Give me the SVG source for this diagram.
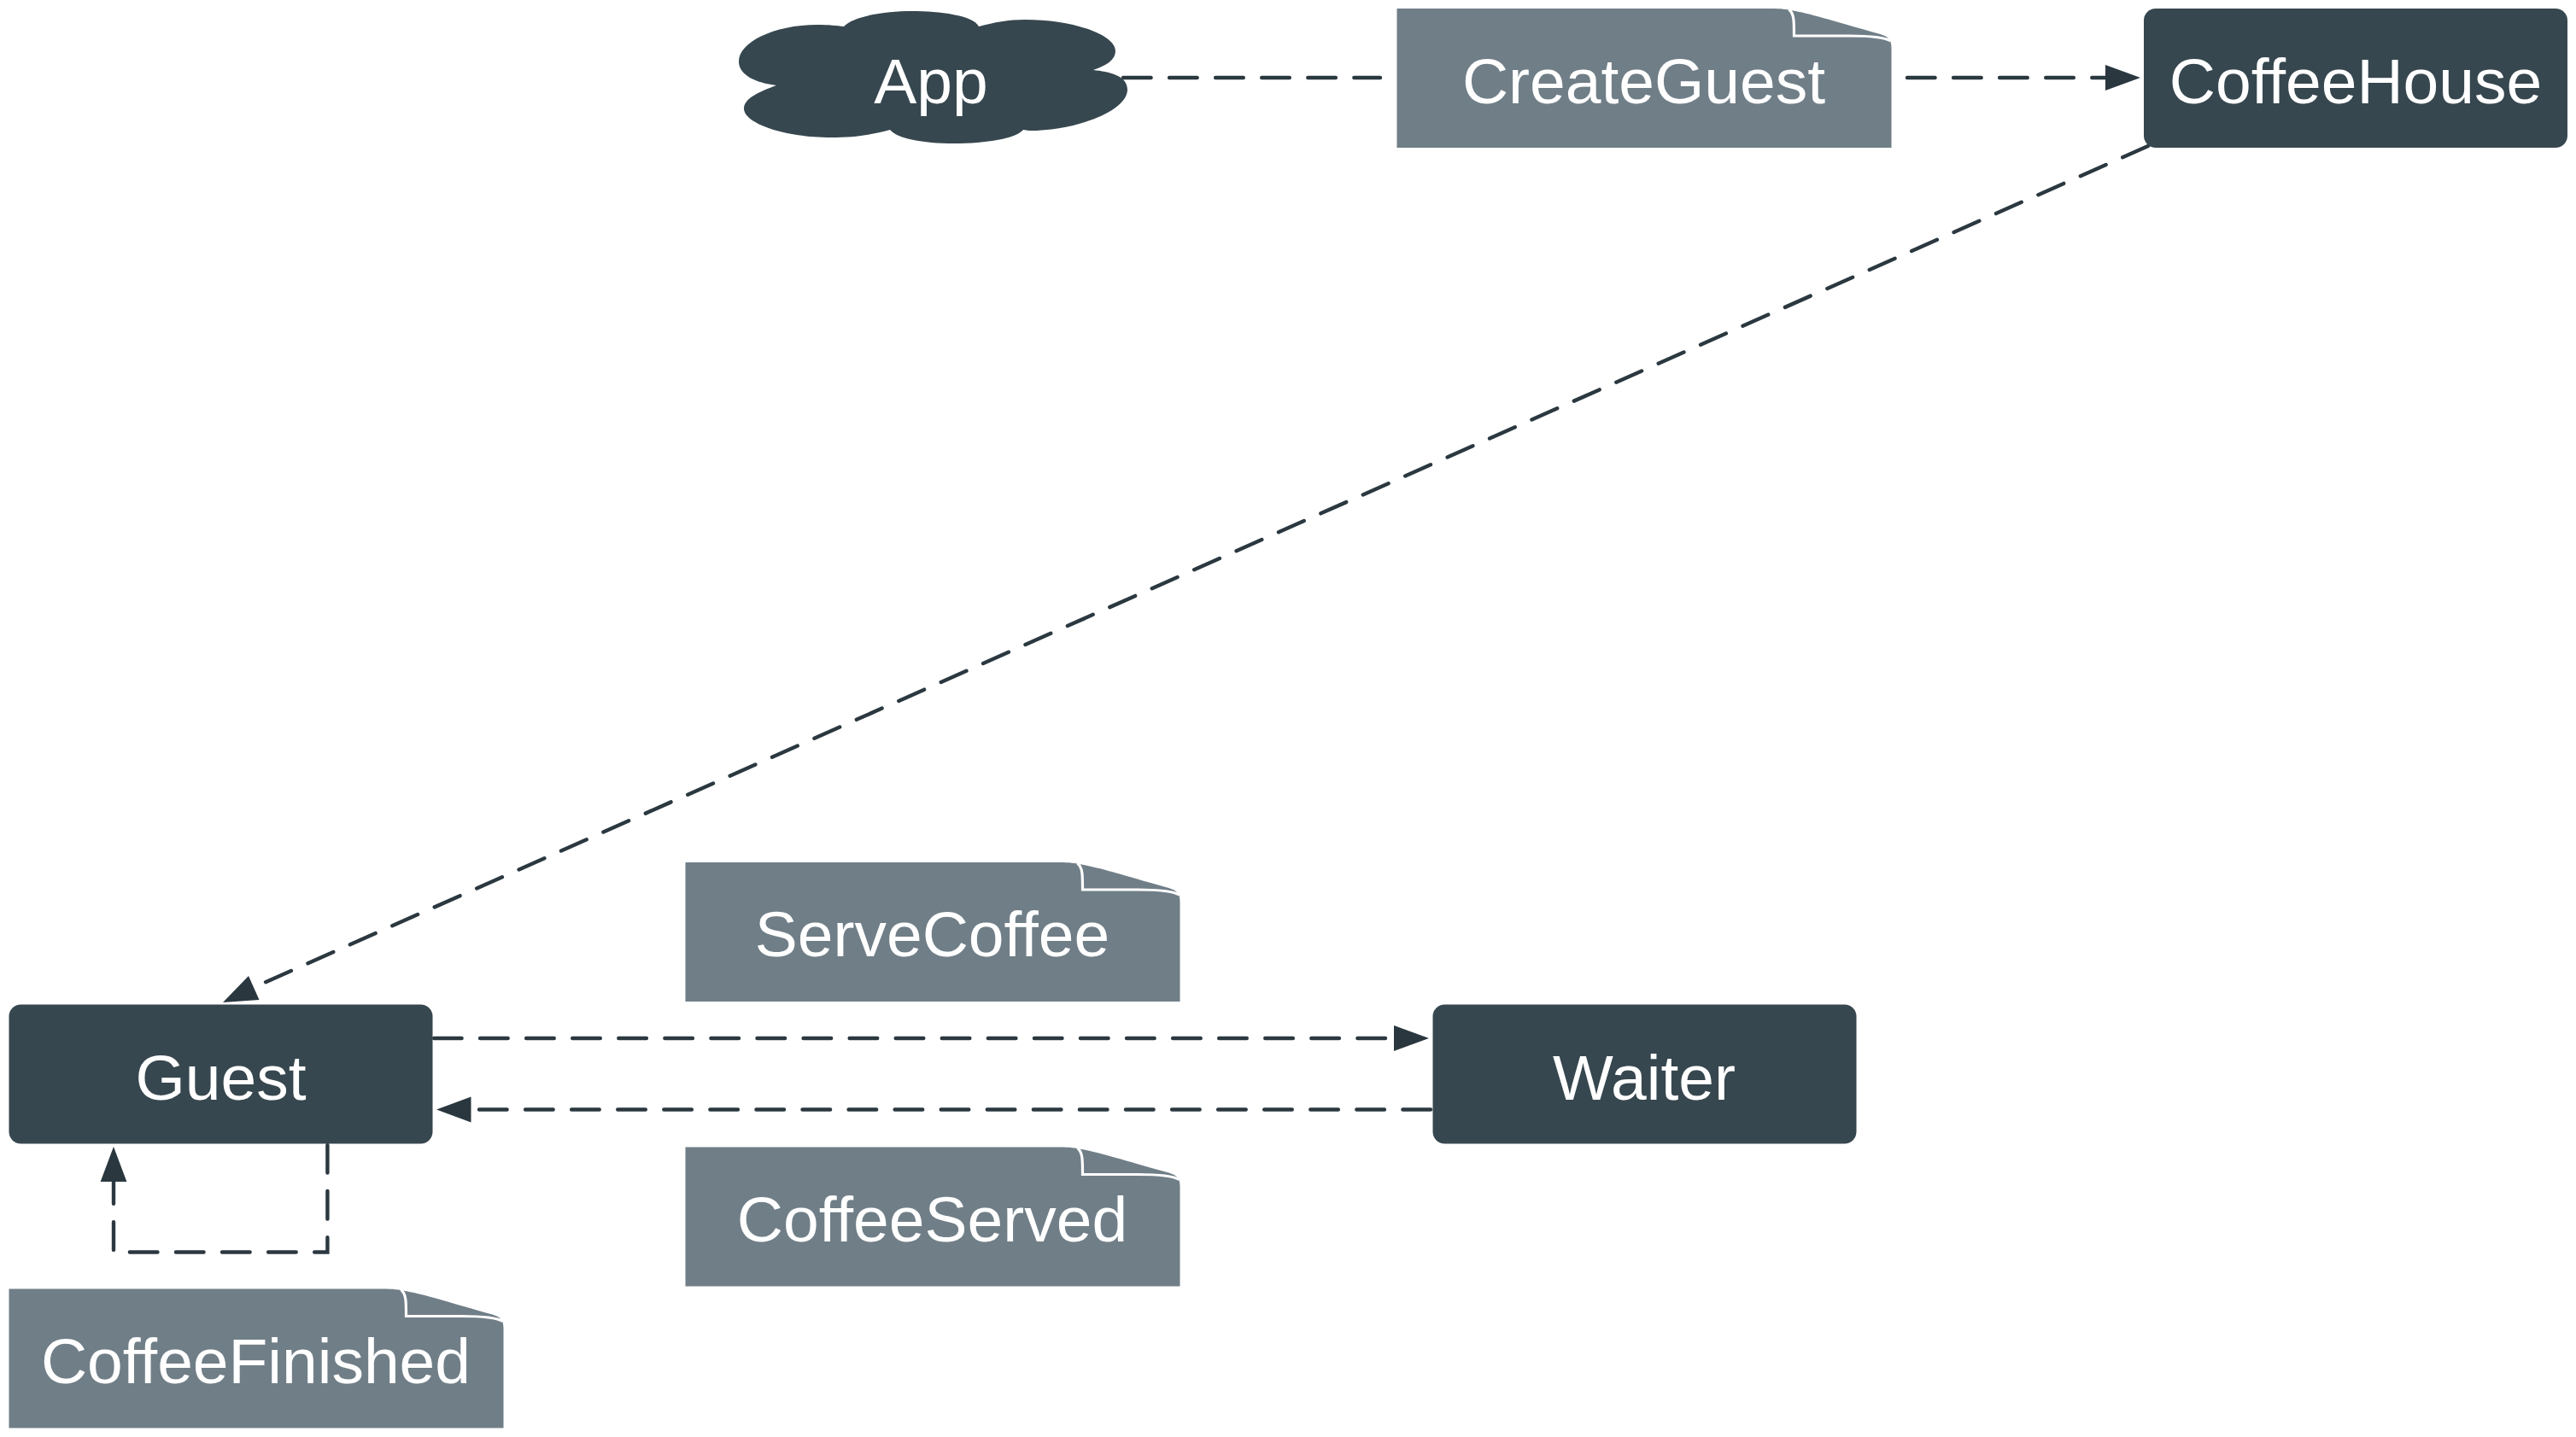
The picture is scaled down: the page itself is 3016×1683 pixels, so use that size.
<svg xmlns="http://www.w3.org/2000/svg" width="3016" height="1683" viewBox="0 0 3016 1683">
<style>
.t{font-family:"Liberation Sans",Arial,Helvetica,sans-serif;font-size:75px;fill:#fff;text-anchor:middle}
.box{fill:#37474f}
.note{fill:#707e87}
.fold{fill:none;stroke:#fff;stroke-width:3.2}
.c{fill:none;stroke:#2b3840;stroke-width:4.4;stroke-linecap:round;stroke-dasharray:32.6 21.47}
.h{fill:#2a373f}
</style>
<defs>
<g id="noteShape">
<path class="note" d="M0,0 H438 C450,0 457,1 461,2 C485,6 505,13 566,30 C575,33 579,36 579,46 V163 H0 Z"/>
<path class="fold" d="M459,1 C465,6 465,14 465,32 H530 C552,32 570,33 578,38"/>
</g>
</defs>
<rect width="3016" height="1683" fill="#fff"/>
<g id="connectors">
<path class="c" d="M1315,91 H1616"/>
<path class="c" d="M2233,91 H2466"/>
<path class="h" d="M2465,76 L2506,91 L2465,106 Z"/>
<path class="c" d="M2515,171 L298,1156"/>
<path class="h" d="M261,1174 L291,1143 L303.5,1171 Z"/>
<path class="c" d="M508,1216 H1634"/>
<path class="h" d="M1632,1201 L1673,1216 L1632,1231 Z"/>
<path class="c" d="M1675,1299.5 H552"/>
<path class="h" d="M511,1299.5 L551.5,1284.5 V1314.5 Z"/>
<path class="c" d="M383.4,1341 V1466.5 H133 V1384"/>
<path class="h" d="M133,1343 L148.4,1384 H117.6 Z"/>
</g>
<g id="App">
<path class="box" d="M988,31 C1000,18 1040,13 1067,13 C1100,13 1140,18 1146,31 C1165,26 1180,23 1200,23 C1255,23 1306,40 1306,60 C1306,70 1295,77 1280,82 C1298,84 1320,88 1320,105 C1320,130 1260,153 1205,153 C1203,153 1200,152 1198,152 C1190,162 1155,168 1117,168 C1080,168 1050,162 1042,152 C1020,158 1000,161 973,161 C920,161 871,145 871,127 C871,115 890,107 909,100 C885,97 865,88 865,72 C865,50 905,29 957,29 C970,29 980,30 988,31 Z"/>
<text class="t" x="1090" y="121">App</text>
</g>
<g id="CreateGuest">
<use href="#noteShape" transform="translate(1635.5,10)"/>
<text class="t" x="1924.5" y="121">CreateGuest</text>
</g>
<g id="CoffeeHouse">
<rect class="box" x="2510" y="10" width="496" height="163" rx="14"/>
<text class="t" x="2758" y="121">CoffeeHouse</text>
</g>
<g id="Guest">
<rect class="box" x="10.5" y="1176.5" width="496" height="163" rx="14"/>
<text class="t" x="258.5" y="1288">Guest</text>
</g>
<g id="Waiter">
<rect class="box" x="1677.5" y="1176.5" width="496" height="163" rx="14"/>
<text class="t" x="1925" y="1288">Waiter</text>
</g>
<g id="ServeCoffee">
<use href="#noteShape" transform="translate(802.5,1010)"/>
<text class="t" x="1091.5" y="1120">ServeCoffee</text>
</g>
<g id="CoffeeServed">
<use href="#noteShape" transform="translate(802.5,1343.5)"/>
<text class="t" x="1091.5" y="1454">CoffeeServed</text>
</g>
<g id="CoffeeFinished">
<use href="#noteShape" transform="translate(10.5,1509.5)"/>
<text class="t" x="299.5" y="1620">CoffeeFinished</text>
</g>
</svg>
